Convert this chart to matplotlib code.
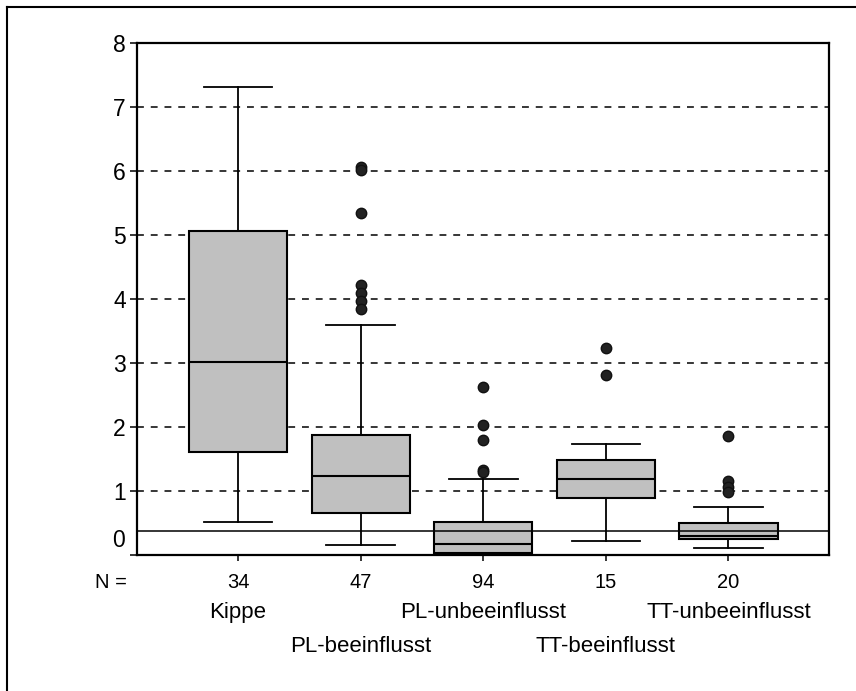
import matplotlib
matplotlib.use("Agg")
import matplotlib.pyplot as plt
from matplotlib.lines import Line2D

plt.rcParams['font.family'] = ['Liberation Sans', 'DejaVu Sans']

# data
groups = ["Kippe", "PL-beeinflusst", "PL-unbeeinflusst", "TT-beeinflusst", "TT-unbeeinflusst"]
counts = [34, 47, 94, 15, 20]
whislo = [0.52, 0.16, 0.0, 0.22, 0.11]
q1 = [1.61, 0.66, 0.03, 0.89, 0.25]
med = [3.01, 1.23, 0.17, 1.19, 0.30]
q3 = [5.06, 1.88, 0.52, 1.49, 0.50]
whishi = [7.31, 3.59, 1.19, 1.74, 0.75]
outliers = [
    [],
    [6.07, 6.02, 5.35, 4.22, 4.10, 3.97, 3.85],
    [2.62, 2.03, 1.80, 1.33, 1.29],
    [3.23, 2.81],
    [1.86, 1.15, 1.07, 0.98],
]
ref_line = 0.38
yticks = [1, 2, 3, 4, 5, 6, 7, 8]

stats = []
for i in range(len(groups)):
    stats.append(dict(label=groups[i], whislo=whislo[i], q1=q1[i], med=med[i],
                      q3=q3[i], whishi=whishi[i], fliers=outliers[i]))

fig = plt.figure(figsize=(8.56, 6.91), dpi=100)
ax = fig.add_axes([137/856, 1-555/691, (829-137)/856, (555-43)/691])

pos = list(range(1, len(groups)+1))
ax.bxp(stats, positions=pos, widths=0.8, patch_artist=True, showfliers=True,
       boxprops=dict(facecolor='#c0c0c0', edgecolor='black', linewidth=1.5),
       medianprops=dict(color='black', linewidth=1.5),
       whiskerprops=dict(color='black', linewidth=1.3),
       capprops=dict(color='black', linewidth=1.3),
       capwidths=0.56,
       flierprops=dict(marker='o', markersize=7.5, markerfacecolor='#222222',
                       markeredgecolor='#111111', linestyle='none'),
       zorder=3)

# reference line
ax.axhline(ref_line, color='black', linewidth=1.1, zorder=4)

ax.set_xlim(0.176, 5.82)
ax.set_ylim(0, 8)
ax.set_yticks([0] + yticks)
ax.set_yticklabels([''] + [str(t) for t in yticks], fontsize=16.5)
ax.text(-0.018, 0.23, "0", transform=ax.get_yaxis_transform(), ha='right', va='center', fontsize=16.5)
ax.tick_params(axis='y', direction='out', length=5, width=1.1, pad=3)
ax.set_xticks(pos)
ax.set_xticklabels([])
ax.tick_params(axis='x', direction='out', length=4, width=1.1)

for y in yticks:
    ax.axhline(y, color='black', linewidth=1.1, linestyle=(0, (4.5, 4.5)), zorder=1)

for s in ax.spines.values():
    s.set_linewidth(1.6)

# N counts and group labels under the axis
tr = ax.get_xaxis_transform()
ax.text(-0.038, -0.053, "N =", transform=ax.transAxes, ha='center', va='center', fontsize=14.5)
for i, p in enumerate(pos):
    ax.text(p, -0.053, str(counts[i]), transform=tr, ha='center', va='center', fontsize=14.5)
    row_y = -0.113 if i % 2 == 0 else -0.179
    ax.text(p, row_y, groups[i], transform=tr, ha='center', va='center', fontsize=16)

# outer frame (only top and left edge are visible)
fig.add_artist(Line2D([6.5/856, 1], [1-7/691, 1-7/691], color='black', linewidth=1.5))
fig.add_artist(Line2D([6.5/856, 6.5/856], [0, 1-7/691], color='black', linewidth=1.5))

fig.savefig("out.png", dpi=100)
